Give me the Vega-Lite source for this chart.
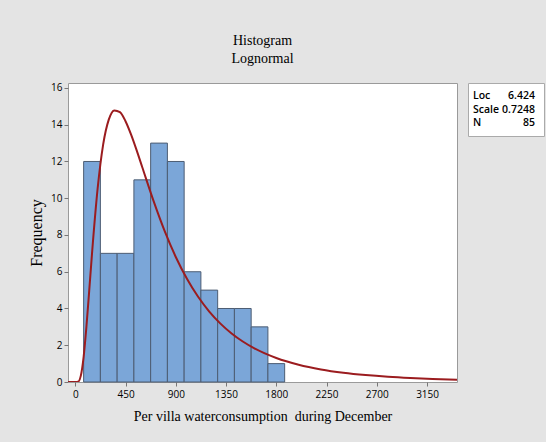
{
  "$schema": "https://vega.github.io/schema/vega-lite/v6.json",
  "background": "#e4e4e4",
  "padding": {"left": 28, "top": 33, "right": 3, "bottom": 18},
  "bounds": "flush",
  "spacing": 11,
  "config": {
    "view": {"stroke": null},
    "font": "Liberation Serif",
    "axis": {
      "grid": false,
      "domain": false,
      "tickColor": "#777777",
      "tickSize": 4,
      "labelFont": "Open Sans",
      "labelFontSize": 10,
      "labelColor": "#000000",
      "labelOverlap": false,
      "titleFont": "Liberation Serif",
      "titleFontWeight": "normal",
      "titleColor": "#000000"
    }
  },
  "hconcat": [
    {
      "width": 389,
      "height": 299,
      "title": {
        "text": "Histogram",
        "subtitle": "Lognormal",
        "font": "Liberation Serif",
        "fontSize": 14,
        "fontWeight": "normal",
        "color": "#000000",
        "subtitleFont": "Liberation Serif",
        "subtitleFontSize": 14,
        "subtitleColor": "#000000",
        "subtitlePadding": 4,
        "offset": 17,
        "anchor": "middle"
      },
      "view": {"fill": "white", "stroke": "#9a9a9a"},
      "layer": [
        {
          "data": {
            "values": [
              {"bin_start": 75, "bin_end": 225, "count": 12},
              {"bin_start": 225, "bin_end": 375, "count": 7},
              {"bin_start": 375, "bin_end": 525, "count": 7},
              {"bin_start": 525, "bin_end": 675, "count": 11},
              {"bin_start": 675, "bin_end": 825, "count": 13},
              {"bin_start": 825, "bin_end": 975, "count": 12},
              {"bin_start": 975, "bin_end": 1125, "count": 6},
              {"bin_start": 1125, "bin_end": 1275, "count": 5},
              {"bin_start": 1275, "bin_end": 1425, "count": 4},
              {"bin_start": 1425, "bin_end": 1575, "count": 4},
              {"bin_start": 1575, "bin_end": 1725, "count": 3},
              {"bin_start": 1725, "bin_end": 1875, "count": 1}
            ]
          },
          "mark": {"type": "rect", "fill": "#7ba6d8", "stroke": "#4d5d73", "strokeWidth": 1},
          "encoding": {
            "x": {
              "field": "bin_start",
              "type": "quantitative",
              "scale": {"domain": [-65, 3418], "nice": false, "zero": false},
              "axis": {
                "values": [0, 450, 900, 1350, 1800, 2250, 2700, 3150],
                "tickCount": 10,
                "format": "d",
                "title": "Per villa waterconsumption\u00a0 during December",
                "titleFontSize": 14,
                "titlePadding": 10,
                "labelPadding": 3
              }
            },
            "x2": {"field": "bin_end"},
            "y": {
              "field": "count",
              "type": "quantitative",
              "scale": {"domain": [0, 16.27], "nice": false},
              "axis": {
                "values": [0, 2, 4, 6, 8, 10, 12, 14, 16],
                "tickCount": 10,
                "title": "Frequency",
                "titleFontSize": 16,
                "titlePadding": 6,
                "labelPadding": 2
              }
            },
            "y2": {"datum": 0}
          }
        },
        {
          "data": {
            "values": [
              {"x": -65, "density": 0},
              {"x": 0, "density": 0},
              {"x": 25, "density": 0.016},
              {"x": 50, "density": 0.346},
              {"x": 75, "density": 1.371},
              {"x": 100, "density": 3.011},
              {"x": 125, "density": 4.974},
              {"x": 150, "density": 6.988},
              {"x": 200, "density": 10.505},
              {"x": 250, "density": 12.93},
              {"x": 300, "density": 14.278},
              {"x": 350, "density": 14.78},
              {"x": 400, "density": 14.684},
              {"x": 450, "density": 14.192},
              {"x": 500, "density": 13.462},
              {"x": 550, "density": 12.603},
              {"x": 600, "density": 11.688},
              {"x": 700, "density": 9.872},
              {"x": 800, "density": 8.223},
              {"x": 900, "density": 6.804},
              {"x": 1000, "density": 5.616},
              {"x": 1100, "density": 4.636},
              {"x": 1200, "density": 3.834},
              {"x": 1300, "density": 3.178},
              {"x": 1400, "density": 2.642},
              {"x": 1500, "density": 2.204},
              {"x": 1600, "density": 1.845},
              {"x": 1800, "density": 1.307},
              {"x": 2000, "density": 0.939},
              {"x": 2200, "density": 0.684},
              {"x": 2400, "density": 0.504},
              {"x": 2600, "density": 0.376},
              {"x": 2800, "density": 0.283},
              {"x": 3000, "density": 0.216},
              {"x": 3200, "density": 0.166},
              {"x": 3420, "density": 0.126}
            ]
          },
          "mark": {"type": "line", "color": "#9b1c1f", "strokeWidth": 2, "interpolate": "monotone", "clip": true},
          "encoding": {
            "x": {"field": "x", "type": "quantitative"},
            "y": {"field": "density", "type": "quantitative"}
          }
        }
      ]
    },
    {
      "width": 76,
      "height": 53,
      "view": {"fill": "white", "stroke": "#aaaaaa"},
      "data": {
        "values": [
          {"stat": "Loc", "value": "6.424"},
          {"stat": "Scale", "value": "0.7248"},
          {"stat": "N", "value": "85"}
        ]
      },
      "encoding": {
        "y": {"field": "stat", "type": "nominal", "sort": null, "scale": {"type": "point", "padding": 1.04}, "axis": null}
      },
      "layer": [
        {
          "mark": {"type": "text", "align": "left", "baseline": "middle", "font": "Open Sans", "fontSize": 10.5, "fontWeight": 600, "dx": 5, "color": "#000000"},
          "encoding": {
            "x": {"datum": 0, "type": "quantitative", "scale": {"domain": [0, 1]}, "axis": null},
            "text": {"field": "stat"}
          }
        },
        {
          "mark": {"type": "text", "align": "right", "baseline": "middle", "font": "Open Sans", "fontSize": 10.5, "fontWeight": 600, "dx": -9, "color": "#000000"},
          "encoding": {
            "x": {"datum": 1, "type": "quantitative"},
            "text": {"field": "value"}
          }
        }
      ]
    }
  ]
}
